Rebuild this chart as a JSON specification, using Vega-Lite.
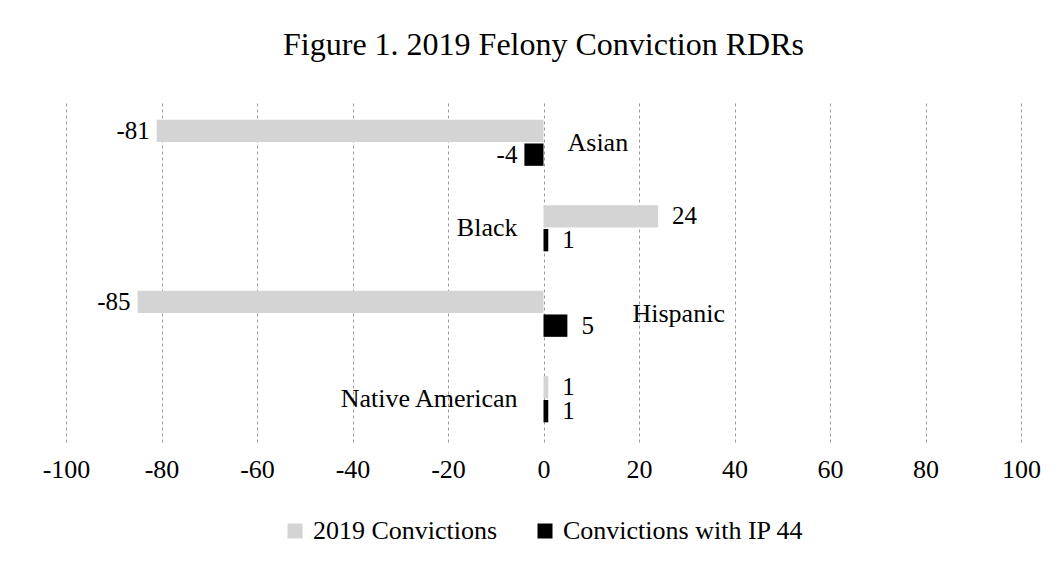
{
  "$schema": "https://vega.github.io/schema/vega-lite/v6.json",
  "width": 955,
  "height": 342,
  "autosize": {"type": "none"},
  "padding": {"left": 66, "top": 100, "right": 37, "bottom": 123},
  "background": "white",
  "title": {"text": "Figure 1. 2019 Felony Conviction RDRs", "font": "Liberation Serif", "fontSize": 32, "fontWeight": "normal", "color": "black", "anchor": "middle", "offset": 38},
  "config": {"view": {"stroke": null}, "font": "Liberation Serif"},
  "data": {"values": [
    {"category": "Asian", "series": "2019 Convictions", "value": -81},
    {"category": "Asian", "series": "Convictions with IP 44", "value": -4},
    {"category": "Black", "series": "2019 Convictions", "value": 24},
    {"category": "Black", "series": "Convictions with IP 44", "value": 1},
    {"category": "Hispanic", "series": "2019 Convictions", "value": -85},
    {"category": "Hispanic", "series": "Convictions with IP 44", "value": 5},
    {"category": "Native American", "series": "2019 Convictions", "value": 1},
    {"category": "Native American", "series": "Convictions with IP 44", "value": 1}
  ]},
  "encoding": {
    "y": {"field": "category", "type": "nominal", "sort": ["Asian", "Black", "Hispanic", "Native American"], "scale": {"paddingInner": 0.46, "paddingOuter": 0.23}, "axis": null}
  },
  "layer": [
    {
      "mark": {"type": "bar"},
      "encoding": {
        "x": {"field": "value", "type": "quantitative", "scale": {"domain": [-100, 100], "nice": false, "zero": false},
          "axis": {"values": [-100, -80, -60, -40, -20, 0, 20, 40, 60, 80, 100], "labelExpr": "toString(datum.value)", "labelFlush": false, "labelOverlap": false, "grid": true, "gridDash": [3, 3], "gridColor": "#9a9a9a", "gridWidth": 1, "domain": false, "ticks": false, "labelFont": "Liberation Serif", "labelFontSize": 26, "labelColor": "black", "labelPadding": 14, "title": null}},
        "yOffset": {"field": "series", "type": "nominal", "sort": ["2019 Convictions", "Convictions with IP 44"], "scale": {"paddingInner": 0.06}},
        "color": {"field": "series", "type": "nominal", "scale": {"domain": ["2019 Convictions", "Convictions with IP 44"], "range": ["#d4d4d4", "#000000"]},
          "legend": {"orient": "none", "legendX": 216, "legendY": 418, "direction": "horizontal", "title": null, "symbolType": "square", "symbolSize": 225, "symbolStrokeWidth": 0, "labelFont": "Liberation Serif", "labelFontSize": 26, "labelColor": "black", "labelLimit": 0, "columnPadding": 34, "labelOffset": 5}}
      }
    },
    {
      "mark": {"type": "text", "font": "Liberation Serif", "fontSize": 25, "color": "black", "baseline": "middle", "align": {"expr": "datum.value < 0 ? 'right' : 'left'"}, "dx": {"expr": "datum.value < 0 ? -7 : 14"}},
      "encoding": {
        "x": {"field": "value", "type": "quantitative"},
        "yOffset": {"field": "series", "type": "nominal", "sort": ["2019 Convictions", "Convictions with IP 44"]},
        "text": {"field": "value", "type": "nominal"}
      }
    },
    {
      "transform": [
        {"joinaggregate": [{"op": "max", "field": "value", "as": "maxv"}], "groupby": ["category"]},
        {"filter": "datum.series === '2019 Convictions'"}
      ],
      "mark": {"type": "text", "font": "Liberation Serif", "fontSize": 26, "color": "black", "baseline": "middle", "align": {"expr": "datum.value < 0 ? 'left' : 'right'"}, "dx": {"expr": "datum.value < 0 ? (datum.maxv > 0 ? 89 : 24) : -26"}},
      "encoding": {
        "x": {"datum": 0, "type": "quantitative"},
        "text": {"field": "category", "type": "nominal"}
      }
    }
  ]
}
